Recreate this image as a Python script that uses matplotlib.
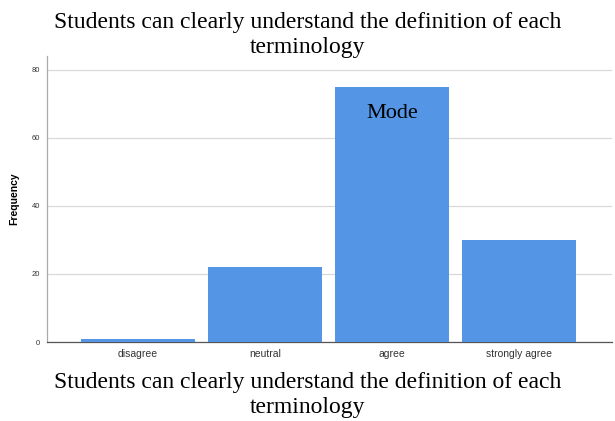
import matplotlib.pyplot as plt

plt.rcParams['font.family'] = ['Liberation Sans', 'DejaVu Sans']

categories = ['disagree', 'neutral', 'agree', 'strongly agree']
counts = [1, 22, 75, 30]
title_text = 'Students can clearly understand the definition of each\nterminology'

fig = plt.figure(figsize=(6.15, 4.21), dpi=100)
ax = fig.add_axes([0.0764, 0.1876, 0.9186, 0.6794])

x = range(len(categories))
ax.bar(x, counts, width=0.9, color='#5595E6', zorder=3)
ax.set_xlim(-0.717, 3.73)
ax.set_ylim(0, 84)
ax.set_yticks([0, 20, 40, 60, 80])
ax.set_xticks(list(x))
ax.set_xticklabels(categories, fontsize=7.5, color='#333333')
ax.tick_params(axis='y', labelsize=5.5, length=0, colors='#333333', pad=5)
ax.tick_params(axis='x', length=0, pad=5)
ax.grid(axis='y', color='#d9d9d9', linewidth=0.9, zorder=0)
for s in ['top', 'right']:
    ax.spines[s].set_visible(False)
ax.spines['left'].set_color('#aaaaaa')
ax.spines['bottom'].set_color('#555555')
ax.spines['left'].set_linewidth(0.9)
ax.spines['bottom'].set_linewidth(0.9)
ax.set_ylabel('Frequency', fontsize=7.5, fontweight='bold', labelpad=9)

ax.text(2, 67, 'Mode', ha='center', va='center', fontsize=16,
        family='Liberation Serif', zorder=4)

fig.text(0.5, 0.917, title_text, ha='center', va='center', fontsize=17,
         family='Liberation Serif', linespacing=1.25)
fig.text(0.5, 0.061, title_text, ha='center', va='center', fontsize=17,
         family='Liberation Serif', linespacing=1.25)

fig.savefig('out.png', dpi=100)
